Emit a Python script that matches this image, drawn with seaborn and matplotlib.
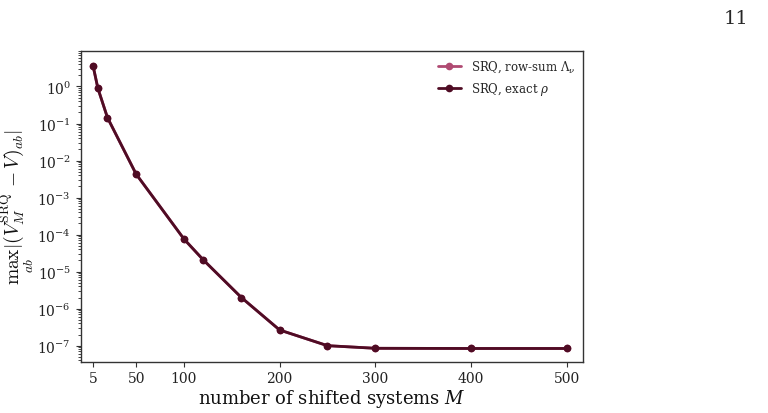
import matplotlib
matplotlib.use("Agg")
import matplotlib.pyplot as plt
import seaborn as sns
import pandas as pd
import numpy as np
from matplotlib.ticker import LogLocator, NullFormatter

M_values = [5, 10, 20, 50, 100, 120, 160, 200, 250, 300, 400, 500]
err_rowsum = [3.6, 0.9, 0.145, 0.0043, 7.6e-5, 2.1e-5, 2.0e-6, 2.65e-7, 1.0e-7, 8.5e-8, 8.4e-8, 8.4e-8]
err_exact = [3.6, 0.9, 0.145, 0.0043, 7.6e-5, 2.1e-5, 2.0e-6, 2.65e-7, 1.0e-7, 8.5e-8, 8.4e-8, 8.4e-8]
series_labels = [r"SRQ, row-sum $\Lambda_\nu$", r"SRQ, exact $\rho$"]
series_colors = ["#b04a72", "#4f0c24"]
x_ticks = [5, 50, 100, 200, 300, 400, 500]

sns.set_style("ticks")
plt.rcParams["font.family"] = ["DejaVu Serif"]
plt.rcParams["mathtext.fontset"] = "dejavuserif"

df = pd.DataFrame({
    "M": M_values * 2,
    "err": err_rowsum + err_exact,
    "series": [series_labels[0]] * len(M_values) + [series_labels[1]] * len(M_values),
})

fig = plt.figure(figsize=(7.68, 4.14), dpi=100)
ax = fig.add_axes([0.105, 0.124, 0.654, 0.750])

sns.lineplot(data=df, x="M", y="err", hue="series", hue_order=series_labels,
             palette=dict(zip(series_labels, series_colors)), marker="o",
             markersize=5.5, markeredgewidth=0, linewidth=2, ax=ax, legend=True)

ax.set_yscale("log")
ax.set_xlim(-8, 517)
ax.set_ylim(3.7e-8, 9.0)
ax.set_xticks(x_ticks)
ax.set_xticklabels([str(t) for t in x_ticks])
ax.yaxis.set_major_locator(LogLocator(base=10, numticks=20))
ax.yaxis.set_minor_locator(LogLocator(base=10, subs=np.arange(2, 10), numticks=20))
ax.yaxis.set_minor_formatter(NullFormatter())
ax.tick_params(axis="both", labelsize=10, direction="out", length=3.5, width=0.8,
               color="#333333", labelcolor="#222222")
ax.tick_params(axis="y", which="minor", length=2, width=0.6)

for s in ax.spines.values():
    s.set_visible(True)
    s.set_color("#333333")
    s.set_linewidth(1.0)

ax.set_xlabel(r"number of shifted systems $M$", fontsize=13, labelpad=1, color="#111111")
ax.set_ylabel(r"$\max_{ab}|(V_M^{\mathrm{SRQ}} - V)_{ab}|$", fontsize=14,
              math_fontfamily="cm", color="#111111")
ax.yaxis.set_label_coords(-0.088, 0.5)

leg = ax.legend(loc="upper right", frameon=False, fontsize=8.5, handlelength=2.0,
                borderaxespad=0.25)

fig.text(0.975, 0.955, "11", fontsize=14, ha="right", va="center", family="DejaVu Serif")

fig.savefig("out.png", dpi=100)
